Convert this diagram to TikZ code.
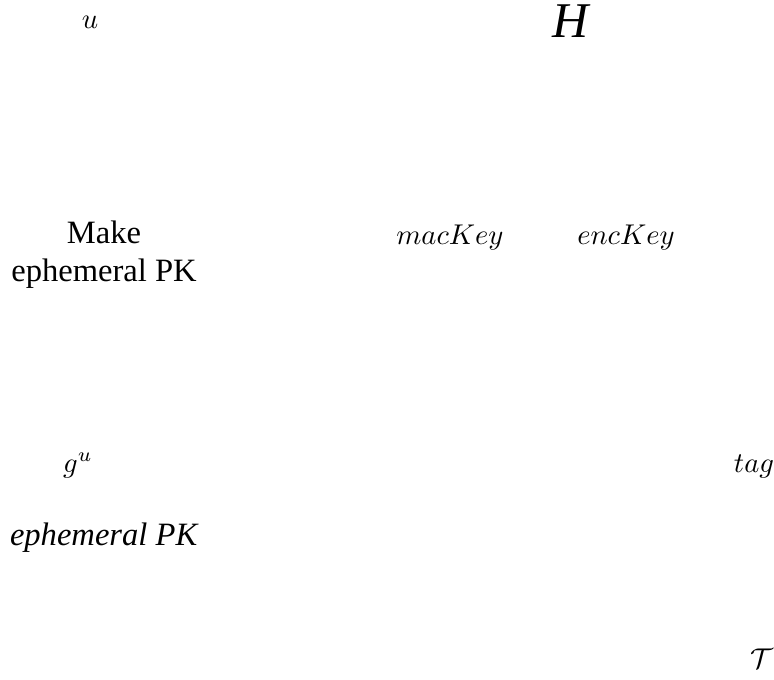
\documentclass[tikz,border=0pt]{standalone}
\usepackage{fontspec}
\newfontfamily\timesfont{Liberation Serif}
\tikzset{
  lbl/.style={inner sep=0pt, outer sep=0pt},
  mathlbl/.style={lbl, font=\fontsize{10}{12}\selectfont},
  textlbl/.style={lbl, align=center, font=\timesfont\fontsize{11.4}{13}\selectfont},
}
\begin{document}
\begin{tikzpicture}[x=0.35pt, y=-0.35pt]
  \useasboundingbox (0,0) rectangle (774,679);
  % top row
  \node[mathlbl, anchor=base] (u) at (90,28) {$u$};
  \node[lbl, anchor=base, font=\timesfont\itshape\fontsize{17.5}{20}\selectfont] (H) at (571,37) {H};
  % key derivation row
  \node[textlbl, anchor=base] (make) at (104,281) {Make\\ephemeral PK};
  \node[mathlbl, anchor=base] (mac) at (450,244) {$macKey$};
  \node[mathlbl, anchor=base] (enc) at (626,244) {$encKey$};
  % outputs
  \node[mathlbl, anchor=base] (gu) at (78,472) {$g^u$};
  \node[mathlbl, anchor=base east] (tag) at (774,472) {$tag$};
  \node[textlbl, anchor=base west, font=\timesfont\itshape\fontsize{11.4}{13}\selectfont] (epk) at (10,545) {ephemeral PK};
  \node[mathlbl, anchor=base] (T) at (762,668) {$\mathcal{T}$};
\end{tikzpicture}
\end{document}
